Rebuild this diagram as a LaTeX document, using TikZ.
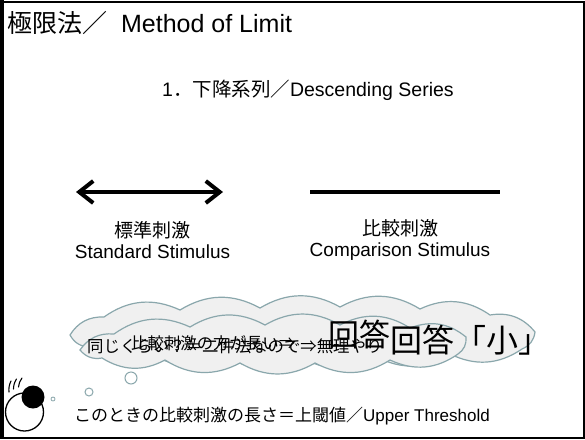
\documentclass[tikz,border=0pt]{standalone}
\usepackage{fontspec}
\setmainfont{Liberation Sans}
\newfontfamily\jp{Noto Sans CJK JP}
\usetikzlibrary{arrows.meta}
\definecolor{cloudline}{HTML}{8AA7AC}
\definecolor{cloudfill}{HTML}{F0F0F0}
\tikzset{
  txt/.style={inner sep=0pt, anchor=base west},
  cloudpath/.style={draw=cloudline, fill=cloudfill, line width=1.2pt},
  puff/.style={bend left=30},
  bubble/.style={circle, draw=cloudline, fill=white, line width=1pt, inner sep=0pt},
  stim/.style={line width=4.5pt},
  lash/.style={line width=1.1pt, line cap=round},
}
\newcommand{\fs}[1]{\fontsize{#1}{#1}\selectfont}
\begin{document}
\begin{tikzpicture}[x=1pt,y=-1pt]
\useasboundingbox (0,0) rectangle (585,439);
\fill[white] (0,0) rectangle (585,439);

% slide frame
\draw[line width=2pt] (1.5,1.5) rectangle (583.5,437.5);
\draw[line width=4pt] (2,0) -- (2,439);

% headings
\node[txt] (title) at (7,32) {\fs{25}{\jp 極限法／}\hspace{7pt} Method of Limit};
\node[txt] (sub) at (162,96) {\fs{19.5}1{\jp ．下降系列／}Descending Series};

% the two stimuli
\coordinate (sl) at (76,192);
\coordinate (sr) at (223,192);
\draw[line width=4pt, {Straight Barb[length=14pt,width=22pt,line width=4pt]}-{Straight Barb[length=14pt,width=22pt,line width=4pt]}] (sl) -- (sr);
\coordinate (cl) at (310,192);
\coordinate (cr) at (500,192);
\draw[stim] (cl) -- (cr);

\node[inner sep=0pt, align=center, font=\fs{19}] (stdlab) at (152.5,240) {{\jp 標準刺激}\\[2pt]Standard Stimulus};
\node[inner sep=0pt, align=center, font=\fs{19}] (cmplab) at (400,240) {{\jp 比較刺激}\\[2pt]Comparison Stimulus};

% thought clouds: outlines built from puffs between points
\draw[cloudpath] (70,335) to[puff] (104,317) to[puff] (180,310) to[puff] (260,308)
  to[puff] (340,307) to[puff] (420,309) to[puff] (490,315) to[puff] (535,332)
  to[puff] (522,349) to[puff] (450,354) to[puff] (375,356) to[puff] (300,357)
  to[puff] (225,356) to[puff] (150,353) to[puff] (90,347) to[puff] cycle;
\draw[cloudpath] (80,350) to[puff] (114,334) to[puff] (190,327) to[puff] (265,325)
  to[puff] (340,325) to[puff] (410,328) to[puff] (466,337) to[puff] (458,354)
  to[puff] (390,360) to[puff] (315,363) to[puff] (240,363) to[puff] (165,360)
  to[puff] (102,358) to[puff] cycle;

% overlapping answers inside the cloud
\node[txt] (b1) at (87,352) {\fs{16.4}\jp 同じくらい？＝二件法なので⇒無理やり};
\node[txt] (a1) at (131,349) {\fs{16.4}\jp 比較刺激の方が長い⇒};
\node[txt] (a2) at (328,346) {\fs{31}\jp 回答};
\node[txt] (b2) at (390,352) {\fs{32}\jp 回答「小」};

% thought bubbles and the eye
\node[bubble, minimum size=12pt] (bub1) at (131,378) {};
\node[bubble, minimum size=8pt] (bub2) at (89,392) {};
\node[bubble, minimum size=4pt, line width=0.8pt] (bub3) at (53,399) {};

\node[circle, draw, line width=1.3pt, fill=white, minimum size=38pt, inner sep=0pt] (eye) at (24.5,412) {};
\node[circle, fill=black, minimum size=23pt, inner sep=0pt] (pupil) at (33,397) {};
\draw[lash] (9,392) to[bend left=15] (11,381);
\draw[lash] (13.5,389) to[bend left=15] (16.5,379);
\draw[lash] (18.5,387) to[bend left=15] (22,378);

% closing remark
\node[txt] (thr) at (74,421) {\fs{17}{\jp このときの比較刺激の長さ＝上閾値／}Upper Threshold};
\end{tikzpicture}
\end{document}
